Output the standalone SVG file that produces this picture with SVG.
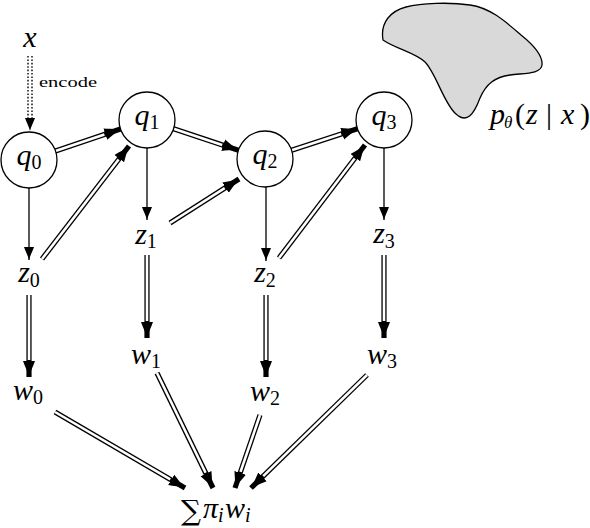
<svg xmlns="http://www.w3.org/2000/svg" width="590" height="528" viewBox="0 0 590 528">
<defs>
<style>
.node{fill:#fff;stroke:#000;stroke-width:1.3}
.m{font-family:"Liberation Serif","Times New Roman",serif;font-style:italic;font-size:30px;fill:#000}
.s{font-style:normal;font-size:20px}
.si{font-size:20px}
.up{font-style:normal}
.single{stroke:#000;stroke-width:1.3;fill:none;marker-end:url(#ah)}
.dbl{stroke:#000;stroke-width:5.2;fill:none;marker-end:url(#dh)}
.dbw{stroke:#fff;stroke-width:2.6;fill:none}
.dot{stroke:#000;stroke-width:1.4;stroke-dasharray:1.6 1.8;fill:none}
</style>
<marker id="ah" markerUnits="userSpaceOnUse" viewBox="0 -6 13 12" refX="13" refY="0" markerWidth="13" markerHeight="12" orient="auto">
<path d="M0,-5 C4,-3.5 9,-1 13,0 C9,1 4,3.5 0,5 Z" fill="#000"/>
</marker>
<marker id="dh" markerUnits="userSpaceOnUse" viewBox="0 -7 16 14" refX="16" refY="0" markerWidth="16" markerHeight="14" orient="auto">
<path d="M0,-6 C5,-4.2 11,-1.2 16,0 C11,1.2 5,4.2 0,6 Z" fill="#000"/>
</marker>
</defs>

<g id="blob">
<path d="M383,40 C396,49 414,52 425,62 C436,73 444,104 456,114 C467,124 474,114 480,98 C486,84 495,77 510,75 C525,73 541,74 542,65 C543,55 531,43 521,35 C506,22 491,8 470,5 C450,2 421,3 406,7 C391,11 380,22 383,40 Z" fill="#d9d9d9" stroke="#000" stroke-width="1.3"/>
<text class="m" y="124"><tspan x="490">p</tspan><tspan x="504" dy="4" font-size="17">θ</tspan><tspan class="up" x="515" dy="-4">(</tspan><tspan x="526">z</tspan><tspan class="up" x="546">|</tspan><tspan x="561">x</tspan><tspan class="up" x="580">)</tspan></text>
</g>

<g id="connectors">
<line class="dot" x1="28" y1="56" x2="28" y2="118"/>
<line class="dot" x1="32" y1="56" x2="32" y2="118"/>
<line x1="30" y1="118" x2="30" y2="131" stroke="none" marker-end="url(#ah)"/>
<line class="single" x1="29" y1="188" x2="29" y2="260"/>
<line class="single" x1="147" y1="148" x2="147" y2="220"/>
<line class="single" x1="266" y1="187" x2="266" y2="261"/>
<line class="single" x1="384" y1="148" x2="384" y2="220"/>
<line class="dbl" x1="55.5" y1="151" x2="120.5" y2="129"/>
<line class="dbw" x1="55.5" y1="151" x2="104.4" y2="134.5"/>
<line class="dbl" x1="173.6" y1="128.8" x2="238.4" y2="150.2"/>
<line class="dbw" x1="173.6" y1="128.8" x2="222.2" y2="144.9"/>
<line class="dbl" x1="291.6" y1="150.3" x2="357.4" y2="128.7"/>
<line class="dbw" x1="291.6" y1="150.3" x2="341.2" y2="134"/>
<line class="dbl" x1="42" y1="259" x2="129" y2="146"/>
<line class="dbw" x1="42" y1="259" x2="118.6" y2="159.5"/>
<line class="dbl" x1="170" y1="223" x2="239" y2="179"/>
<line class="dbw" x1="170" y1="223" x2="224.7" y2="188.1"/>
<line class="dbl" x1="279" y1="258" x2="365" y2="145"/>
<line class="dbw" x1="279" y1="258" x2="354.7" y2="158.5"/>
<line class="dbl" x1="29" y1="295" x2="29" y2="377"/>
<line class="dbw" x1="29" y1="295" x2="29" y2="360"/>
<line class="dbl" x1="147" y1="255" x2="147" y2="338"/>
<line class="dbw" x1="147" y1="255" x2="147" y2="321"/>
<line class="dbl" x1="266" y1="295" x2="266" y2="377"/>
<line class="dbw" x1="266" y1="295" x2="266" y2="360"/>
<line class="dbl" x1="384" y1="255" x2="384" y2="338"/>
<line class="dbw" x1="384" y1="255" x2="384" y2="321"/>
<line class="dbl" x1="55" y1="412" x2="185" y2="488"/>
<line class="dbw" x1="55" y1="412" x2="170.3" y2="479.4"/>
<line class="dbl" x1="157" y1="373" x2="213" y2="488"/>
<line class="dbw" x1="157" y1="373" x2="205.6" y2="472.7"/>
<line class="dbl" x1="260" y1="415" x2="235" y2="488"/>
<line class="dbw" x1="260" y1="415" x2="240.5" y2="471.9"/>
<line class="dbl" x1="367" y1="375" x2="251" y2="488"/>
<line class="dbw" x1="367" y1="375" x2="263.2" y2="476.1"/>
</g>

<g id="x">
<text class="m" x="30" y="47" text-anchor="middle">x</text>
<text x="39" y="87" font-family="Liberation Serif, serif" font-size="15" textLength="58" lengthAdjust="spacingAndGlyphs">encode</text>
</g>

<g id="q0"><circle class="node" cx="29" cy="160" r="28"/><text class="m" x="29" y="165" text-anchor="middle">q<tspan class="s" dy="4">0</tspan></text></g>
<g id="q1"><circle class="node" cx="147" cy="120" r="28"/><text class="m" x="147" y="125" text-anchor="middle">q<tspan class="s" dy="4">1</tspan></text></g>
<g id="q2"><circle class="node" cx="265" cy="159" r="28"/><text class="m" x="265" y="164" text-anchor="middle">q<tspan class="s" dy="4">2</tspan></text></g>
<g id="q3"><circle class="node" cx="384" cy="120" r="28"/><text class="m" x="384" y="125" text-anchor="middle">q<tspan class="s" dy="4">3</tspan></text></g>

<g id="z0"><text class="m" x="29" y="282" text-anchor="middle">z<tspan class="s" dy="5">0</tspan></text></g>
<g id="z1"><text class="m" x="146" y="244" text-anchor="middle">z<tspan class="s" dy="4">1</tspan></text></g>
<g id="z2"><text class="m" x="265" y="282" text-anchor="middle">z<tspan class="s" dy="5">2</tspan></text></g>
<g id="z3"><text class="m" x="384" y="243" text-anchor="middle">z<tspan class="s" dy="5">3</tspan></text></g>

<g id="w0"><text class="m" x="28" y="400" text-anchor="middle">w<tspan class="s" dy="4">0</tspan></text></g>
<g id="w1"><text class="m" x="146" y="364" text-anchor="middle">w<tspan class="s" dy="4">1</tspan></text></g>
<g id="w2"><text class="m" x="265" y="401" text-anchor="middle">w<tspan class="s" dy="4">2</tspan></text></g>
<g id="w3"><text class="m" x="382" y="364" text-anchor="middle">w<tspan class="s" dy="4">3</tspan></text></g>

<g id="sum">
<text x="181" y="520" font-family="DejaVu Serif, serif" font-size="28">∑</text>
<text class="m" y="518"><tspan x="203">π</tspan><tspan class="si" dy="4">i</tspan><tspan x="225" dy="-4">w</tspan><tspan class="si" dy="4">i</tspan></text>
</g>
</svg>
